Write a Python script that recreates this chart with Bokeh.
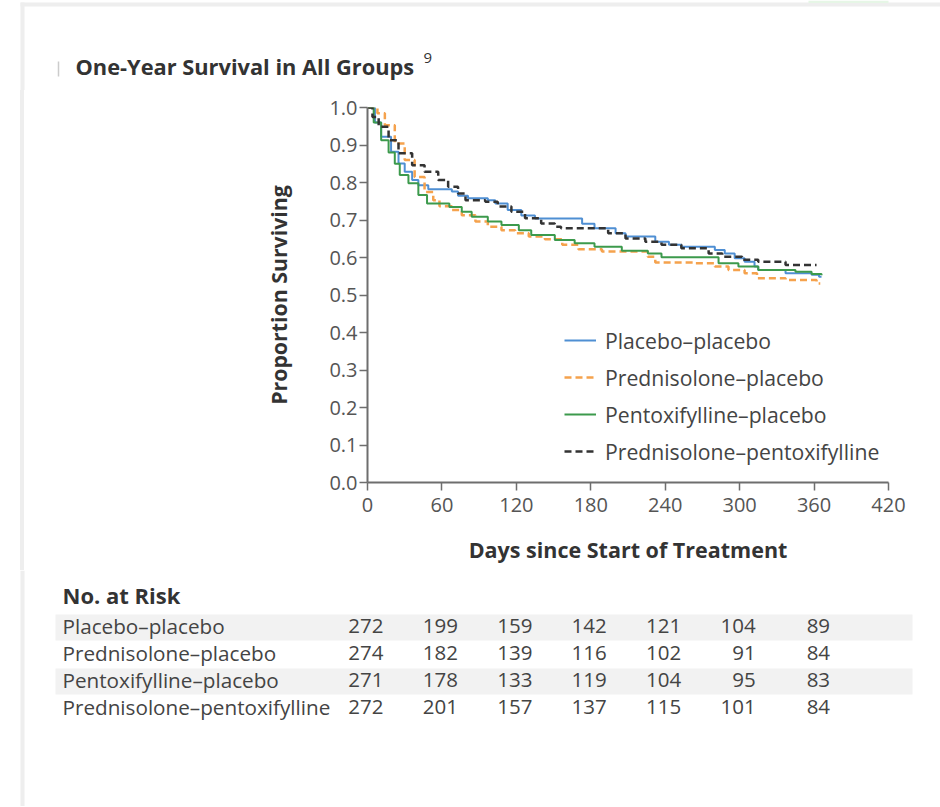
from bokeh.plotting import figure
from bokeh.models import (Range1d, FixedTicker, PrintfTickFormatter, Legend,
                          LegendItem, Span, Div)
from bokeh.layouts import column, row
from bokeh.embed import file_html
from bokeh.resources import INLINE
from bokeh.core.properties import value

# ---------------- data ----------------
title_text = "One-Year Survival in All Groups"
title_ref = "9"
x_label = "Days since Start of Treatment"
y_label = "Proportion Surviving"
x_ticks = [0, 60, 120, 180, 240, 300, 360, 420]
y_ticks = [0.0, 0.1, 0.2, 0.3, 0.4, 0.5, 0.6, 0.7, 0.8, 0.9, 1.0]

groups = ["Placebo–placebo", "Prednisolone–placebo",
          "Pentoxifylline–placebo", "Prednisolone–pentoxifylline"]

pp_days = [0, 6, 11, 19, 25, 30, 36, 41, 49, 68, 73, 81, 97, 103, 113, 124, 135,
           173, 183, 200, 208, 232, 243, 253, 280, 288, 296, 304, 312, 315, 337,
           358, 364, 366]
pp_surv = [1.0, 0.96, 0.922, 0.882, 0.851, 0.829, 0.807, 0.793, 0.782, 0.776,
           0.765, 0.758, 0.753, 0.744, 0.727, 0.712, 0.704, 0.690, 0.678, 0.665,
           0.656, 0.642, 0.634, 0.629, 0.620, 0.611, 0.598, 0.589, 0.576, 0.567,
           0.558, 0.554, 0.549, 0.549]

prp_days = [0, 8, 14, 22, 30, 38, 46, 53, 58, 68, 76, 87, 97, 108, 119, 130, 143,
            157, 170, 189, 226, 232, 264, 280, 291, 304, 314, 337, 362, 365]
prp_surv = [1.0, 0.985, 0.953, 0.904, 0.86, 0.815, 0.775, 0.753, 0.737, 0.727,
            0.713, 0.696, 0.682, 0.673, 0.665, 0.656, 0.649, 0.634, 0.622, 0.616,
            0.602, 0.587, 0.585, 0.576, 0.567, 0.558, 0.545, 0.540, 0.531, 0.531]

pxp_days = [0, 5, 11, 17, 22, 26, 33, 41, 48, 66, 76, 84, 97, 108, 122, 132, 151,
            167, 183, 205, 226, 237, 283, 299, 315, 345, 358, 366]
pxp_surv = [1.0, 0.96, 0.913, 0.88, 0.85, 0.82, 0.798, 0.767, 0.744, 0.735, 0.722,
            0.709, 0.696, 0.687, 0.673, 0.66, 0.647, 0.638, 0.629, 0.618, 0.611,
            0.601, 0.585, 0.576, 0.567, 0.562, 0.556, 0.553]

prpx_days = [0, 4, 9, 17, 25, 36, 46, 57, 65, 73, 79, 95, 105, 116, 127, 140, 151,
             156, 194, 208, 224, 237, 253, 275, 286, 302, 315, 337, 362]
prpx_surv = [1.0, 0.975, 0.949, 0.913, 0.878, 0.846, 0.829, 0.807, 0.789, 0.771,
             0.753, 0.749, 0.736, 0.722, 0.705, 0.691, 0.682, 0.678, 0.665, 0.651,
             0.642, 0.634, 0.625, 0.611, 0.602, 0.594, 0.589, 0.580, 0.580]

risk_title = "No. at Risk"
risk_days = [0, 60, 120, 180, 240, 300, 360]
risk_pp = [272, 199, 159, 142, 121, 104, 89]
risk_prp = [274, 182, 139, 116, 102, 91, 84]
risk_pxp = [271, 178, 133, 119, 104, 95, 83]
risk_prpx = [272, 201, 157, 137, 115, 101, 84]

# ---------------- styles / layout ----------------
FONT_NAME = "Open Sans"
FONT = value(FONT_NAME)
colors = ["#4f8fd3", "#f5a24d", "#3c9a4c", "#333333"]
dashes = ["solid", "7 4", "solid", "7 4"]
widths = [2, 2.5, 2, 2.5]

W = 940
TITLE_H = 90
PLOT_H = 480
TABLE_H = 236
STRIP_W = 40
FRAME_LEFT = 367
FRAME_RIGHT = 888
FRAME_TOP = 107
FRAME_BOTTOM = 482
PX_PER_DAY = (FRAME_RIGHT - FRAME_LEFT) / 420.0
BORDER_COL = "#eeeeee"
BORDER_X = 22
TXT_DY = -2   # "middle" baseline sits ~2px low


def blank(width, height, xr, yr):
    f = figure(width=width, height=height, x_range=xr, y_range=yr,
               output_backend="svg", toolbar_location=None,
               x_axis_location=None, y_axis_location=None, min_border=0)
    f.grid.visible = False
    f.outline_line_color = None
    f.background_fill_color = "white"
    f.border_fill_color = "white"
    return f


# ---- title figure (page coordinates) ----
tf = blank(W, TITLE_H, Range1d(0, W), Range1d(TITLE_H, 0))
tf.segment(x0=[BORDER_X], y0=[2], x1=[BORDER_X], y1=[TITLE_H], line_color=BORDER_COL,
           line_width=4)
tf.segment(x0=[BORDER_X - 2], y0=[4], x1=[W], y1=[4], line_color=BORDER_COL, line_width=4)
tf.quad(left=[808], right=[888], top=[0], bottom=[2.5], fill_color="#e6f6e6",
        line_color=None)
tf.segment(x0=[58], y0=[61], x1=[58], y1=[76], line_color="#cccccc", line_width=1.5)
tf.text(x=[75], y=[68 + TXT_DY], text=[title_text], text_font=FONT,
        text_font_style="bold", text_font_size="21.8px", text_color="#333333",
        text_baseline="middle")
tf.text(x=[423], y=[59 + TXT_DY], text=[title_ref], text_font=FONT,
        text_font_size="15px", text_color="#333333", text_baseline="middle")

# ---- left strip (frame border only) ----
sf = Div(text="", width=STRIP_W, height=PLOT_H, margin=(0, 0, 0, 0),
         styles={"background": "linear-gradient(to right, #ffffff 20px, %s 20px, "
                               "%s 24px, #ffffff 24px)" % (BORDER_COL, BORDER_COL),
                 "padding": "0px", "margin": "0px"})

# ---- plot ----
pw = W - STRIP_W
p = figure(width=pw, height=PLOT_H, x_range=Range1d(0, 420), y_range=Range1d(0, 1),
           output_backend="svg", toolbar_location=None,
           min_border_left=FRAME_LEFT - STRIP_W,
           min_border_right=W - FRAME_RIGHT,
           min_border_top=FRAME_TOP - TITLE_H,
           min_border_bottom=TITLE_H + PLOT_H - FRAME_BOTTOM)
p.grid.visible = False
p.outline_line_color = None
p.background_fill_color = "white"
p.border_fill_color = "white"

for ax in (p.xaxis[0], p.yaxis[0]):
    ax.axis_line_color = "#6e6e6e"
    ax.axis_line_width = 2
    ax.major_tick_line_color = "#6e6e6e"
    ax.major_tick_line_width = 1.5
    ax.major_tick_in = 0
    ax.major_tick_out = 8
    ax.minor_tick_line_color = None
    ax.major_label_text_font = FONT_NAME
    ax.major_label_text_font_size = "20px"
    ax.major_label_text_color = "#555555"
    ax.axis_label_text_font = FONT_NAME
    ax.axis_label_text_font_style = "bold"
    ax.axis_label_text_color = "#333333"

p.xaxis.axis_label_text_font_size = "21.5px"
p.yaxis.axis_label_text_font_size = "21.3px"
p.xaxis.ticker = FixedTicker(ticks=x_ticks)
p.yaxis.ticker = FixedTicker(ticks=y_ticks)
p.yaxis.formatter = PrintfTickFormatter(format="%.1f")
p.xaxis.axis_label = x_label
p.yaxis.axis_label = y_label
p.xaxis.major_label_standoff = 7
p.xaxis.axis_label_standoff = 20
p.yaxis.major_label_standoff = 2
p.yaxis.axis_label_standoff = 33

series = [(pp_days, pp_surv), (prp_days, prp_surv),
          (pxp_days, pxp_surv), (prpx_days, prpx_surv)]
items = []
for i, (d, s) in enumerate(series):
    r = p.step(x=d, y=s, mode="after", line_color=colors[i], line_width=widths[i],
               line_dash=dashes[i])
    items.append(LegendItem(label=groups[i], renderers=[r]))

leg = Legend(items=items, location=(564 - FRAME_LEFT, 16), padding=0, margin=0,
             spacing=7, glyph_width=32, glyph_height=30, label_height=30,
             label_standoff=9, label_text_font=FONT_NAME, label_text_font_size="21.2px",
             label_text_color="#444444", background_fill_alpha=0,
             border_line_color=None)
p.add_layout(leg)

# ---- risk table ----
TABLE_TOP = TITLE_H + PLOT_H
x_start = -FRAME_LEFT / PX_PER_DAY
x_end = x_start + W / PX_PER_DAY
tb = blank(W, TABLE_H, Range1d(x_start, x_end), Range1d(TABLE_H, 0))
tb.add_layout(Span(location=(BORDER_X - FRAME_LEFT) / PX_PER_DAY, dimension="height",
                   line_color=BORDER_COL, line_width=4))
band_l = (55 - FRAME_LEFT) / PX_PER_DAY
band_r = (912 - FRAME_LEFT) / PX_PER_DAY
row_y = [627 - TABLE_TOP, 654 - TABLE_TOP, 681 - TABLE_TOP, 708 - TABLE_TOP]
tb.quad(left=[band_l, band_l], right=[band_r, band_r],
        top=[row_y[0] - 13, row_y[2] - 13], bottom=[row_y[0] + 13, row_y[2] + 13],
        fill_color="#f2f2f2", line_color=None)
text_y = [y + TXT_DY for y in row_y]
lab_x = (62 - FRAME_LEFT) / PX_PER_DAY
tb.text(x=[lab_x], y=[596 - TABLE_TOP + TXT_DY], text=[risk_title], text_font=FONT,
        text_font_style="bold", text_font_size="22px", text_color="#333333",
        text_baseline="middle")
tb.text(x=[lab_x] * 4, y=text_y, text=groups, text_font=FONT,
        text_font_size="20.7px", text_color="#444444", text_baseline="middle")
for j, counts in enumerate([risk_pp, risk_prp, risk_pxp, risk_prpx]):
    tb.text(x=risk_days, y=[text_y[j]] * len(risk_days), text=[str(c) for c in counts],
            text_font=FONT, text_font_size="20.5px", text_color="#444444",
            text_baseline="middle", text_align="right", x_offset=16)

layout = column(tf, row(sf, p), tb)
open("out.html", "w").write(file_html(layout, INLINE))
